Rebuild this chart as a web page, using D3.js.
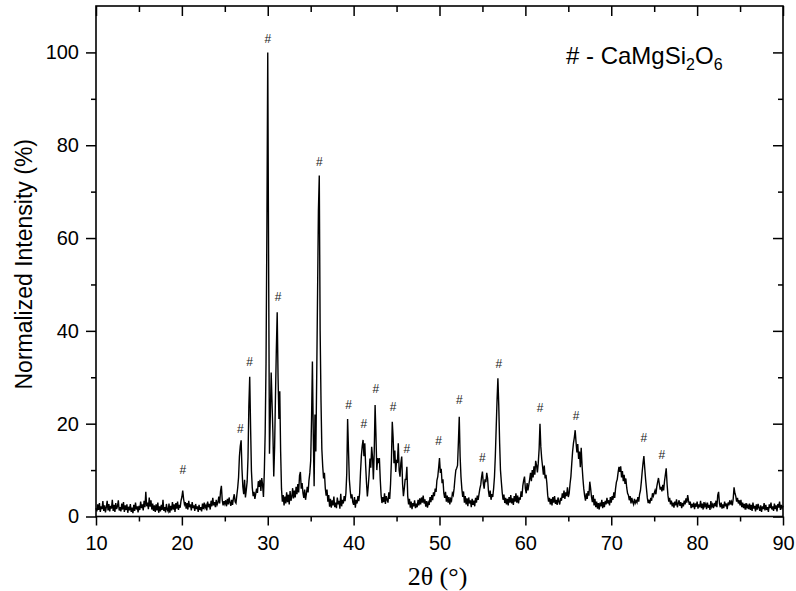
<!DOCTYPE html>
<html>
<head>
<meta charset="utf-8">
<script src="https://cdn.jsdelivr.net/npm/d3@7"></script>
<style>
  body { margin: 0; background: #fff; }
  svg text { font-family: "Liberation Sans", Arial, sans-serif; fill: #000; }
  .axis path { display: none; }
  .axis line { stroke: #000; stroke-width: 1.5; }
  .axis text { font-size: 20px; }
  .hash { font-size: 12px; fill: #222; }
</style>
</head>
<body>
<div id="chart-area"><svg></svg></div>
<script>
const chartSize = { width: 796, height: 591 };
const margin = { left: 96, right: 13, top: 6, bottom: 74.5 };
const width = chartSize.width - margin.left - margin.right;
const height = chartSize.height - margin.top - margin.bottom;

// XRD scan, 2theta 10..90 deg, one reading every 0.1 deg
const scanStart = 10;
const scanStep = 0.1;
const intensity = [
  1.8, 1.1, 2.6, 1.4, 2.9, 1.0, 2.2, 1.6, 3.3, 1.2,   // 10
  2.4, 0.9, 2.0, 3.4, 1.3, 2.7, 1.1, 2.3, 1.7, 3.6,   // 11
  1.2, 2.5, 1.0, 2.9, 1.6, 2.2, 3.5, 1.3, 2.0, 1.1,   // 12
  2.8, 1.5, 3.1, 1.0, 2.4, 1.4, 2.6, 0.8, 2.1, 1.3,   // 13
  2.7, 1.0, 1.9, 0.7, 2.5, 1.2, 3.0, 1.5, 2.2, 0.9,   // 14
  2.3, 1.4, 3.2, 1.8, 2.6, 1.3, 3.4, 2.0, 5.3, 2.2,   // 15
  3.0, 1.6, 4.1, 2.1, 3.5, 1.5, 2.8, 1.2, 2.4, 1.0,   // 16
  2.6, 1.3, 3.0, 0.8, 2.2, 1.1, 2.5, 1.4, 3.6, 1.2,   // 17
  2.0, 0.9, 2.7, 1.5, 1.1, 2.8, 0.8, 2.3, 1.3, 3.1,   // 18
  1.5, 2.6, 1.0, 2.9, 1.7, 3.2, 1.4, 2.5, 1.9, 3.4,   // 19
  4.2, 5.6, 3.8, 2.6, 3.1, 1.7, 2.9, 1.5, 3.4, 2.0,   // 20
  2.6, 1.3, 3.1, 1.8, 2.4, 1.2, 2.7, 1.6, 2.2, 1.0,   // 21
  2.5, 1.4, 2.0, 1.1, 2.8, 1.6, 3.0, 1.9, 2.4, 1.3,   // 22
  3.2, 2.0, 2.7, 1.5, 3.4, 2.2, 4.0, 2.4, 3.1, 2.0,   // 23
  3.6, 2.5, 3.0, 4.3, 2.8, 5.4, 6.6, 3.5, 2.4, 3.3,   // 24
  2.7, 3.5, 2.2, 3.8, 2.6, 4.1, 3.0, 2.3, 3.6, 2.5,   // 25
  3.9, 4.8, 3.2, 2.9, 4.6, 6.2, 8.4, 12.9, 15.2, 16.4, // 26
  10.2, 6.4, 4.8, 7.9, 4.1, 5.7, 7.5, 12.6, 23.8, 30.1, // 27
  19.4, 9.8, 6.2, 4.4, 5.3, 3.8, 4.9, 6.0, 5.1, 7.6,  // 28
  6.4, 7.9, 5.5, 8.3, 6.8, 4.2, 9.6, 18.0, 33.0, 62.0, // 29
  100, 55.0, 13.5, 22.0, 31.0, 24.5, 18.0, 8.6, 15.0, 26.0, // 30
  36.0, 44.0, 30.0, 21.0, 27.0, 14.0, 6.0, 3.2, 4.6, 2.4,  // 31
  4.3, 2.8, 5.2, 3.1, 4.7, 2.6, 5.5, 3.4, 4.2, 6.1,   // 32
  3.9, 5.6, 4.1, 6.4, 4.8, 7.0, 5.2, 8.8, 9.6, 6.0,   // 33
  7.2, 5.1, 4.0, 5.8, 3.6, 4.9, 6.4, 5.2, 7.8, 9.4,   // 34
  12.0, 21.0, 33.4, 18.0, 6.5, 22.0, 14.0, 30.0, 48.0, 66.0, // 35
  73.5, 40.0, 25.0, 14.5, 10.8, 8.2, 9.4, 6.1, 4.5, 5.8, // 36
  3.2, 4.6, 2.1, 3.8, 1.9, 3.5, 2.4, 4.3, 2.0, 3.0,   // 37
  1.8, 4.1, 2.6, 3.4, 1.7, 4.9, 2.2, 3.6, 2.8, 4.4,   // 38
  3.3, 5.0, 9.2, 21.0, 14.5, 8.0, 5.6, 3.9, 4.8, 3.1, // 39
  2.5, 4.2, 1.9, 3.6, 2.8, 4.4, 3.3, 5.0, 9.5, 13.0,  // 40
  15.2, 16.5, 13.0, 15.8, 11.0, 7.2, 4.3, 6.4, 9.0, 12.5, // 41
  10.5, 15.0, 12.8, 8.0, 14.0, 24.0, 17.5, 10.0, 12.6, 11.5, // 42
  12.6, 8.0, 4.6, 2.9, 4.2, 3.1, 5.0, 2.7, 4.4, 3.6,  // 43
  3.0, 5.2, 3.8, 7.0, 12.0, 20.4, 17.0, 11.5, 14.2, 9.6, // 44
  12.0, 11.8, 15.8, 10.0, 8.6, 11.5, 12.9, 7.0, 4.4, 6.0, // 45
  8.0, 8.0, 10.7, 4.4, 2.6, 3.8, 1.9, 3.2, 1.6, 2.9,  // 46
  2.2, 3.5, 1.8, 2.8, 2.0, 3.6, 2.4, 3.9, 2.6, 4.1,   // 47
  3.0, 4.5, 2.8, 3.7, 2.1, 3.3, 1.9, 3.0, 2.5, 4.2,   // 48
  3.1, 4.6, 3.5, 5.2, 4.4, 6.0, 5.3, 7.8, 8.6, 10.5,  // 49
  12.6, 9.4, 10.3, 7.2, 8.0, 5.1, 4.0, 5.3, 3.2, 4.5, // 50
  3.0, 4.2, 2.6, 3.8, 3.4, 5.0, 4.6, 6.0, 8.2, 10.0,  // 51
  10.4, 11.0, 16.0, 21.5, 13.0, 8.6, 6.0, 4.2, 5.4, 3.0, // 52
  4.4, 2.6, 3.9, 2.2, 4.1, 2.8, 3.5, 2.0, 3.8, 2.5,   // 53
  3.4, 2.2, 4.0, 3.0, 4.5, 3.6, 4.8, 6.0, 6.8, 8.5,   // 54
  9.7, 7.2, 6.0, 8.0, 7.4, 9.4, 8.2, 5.5, 4.2, 5.6,   // 55
  3.6, 4.8, 4.2, 6.0, 8.5, 13.0, 19.0, 25.0, 29.8, 24.0, // 56
  16.0, 10.0, 7.5, 5.2, 3.6, 4.7, 2.9, 4.0, 2.6, 3.8, // 57
  2.4, 4.2, 3.0, 4.6, 2.8, 3.9, 2.5, 4.4, 3.2, 5.0,   // 58
  3.0, 4.5, 2.8, 4.1, 3.6, 5.4, 4.2, 6.6, 7.8, 8.6,   // 59
  6.0, 5.0, 7.2, 5.6, 6.8, 8.0, 9.4, 7.6, 10.0, 8.4,  // 60
  10.8, 9.0, 12.0, 11.0, 9.5, 11.5, 14.5, 20.0, 15.0, 12.5, // 61
  10.8, 9.0, 11.0, 8.2, 9.0, 7.2, 4.6, 3.2, 4.0, 2.6, // 62
  3.8, 2.4, 4.2, 3.0, 4.4, 2.7, 3.6, 2.5, 4.1, 3.2,   // 63
  2.6, 4.0, 3.4, 5.0, 4.0, 5.6, 3.8, 5.2, 4.4, 6.3,   // 64
  4.2, 5.0, 7.0, 8.6, 11.4, 14.0, 15.8, 17.0, 18.6, 16.0, // 65
  13.8, 15.6, 12.4, 14.0, 10.6, 14.8, 11.0, 8.2, 6.0, 4.5, // 66
  3.4, 5.0, 3.8, 5.5, 4.5, 7.5, 6.0, 4.2, 3.1, 4.6,   // 67
  2.4, 3.8, 2.0, 3.2, 1.7, 2.9, 1.5, 3.0, 2.2, 3.6,   // 68
  1.8, 3.1, 2.0, 3.4, 2.6, 4.0, 2.8, 3.5, 2.4, 4.2,   // 69
  3.0, 4.4, 3.6, 5.2, 4.0, 6.0, 7.4, 8.0, 9.5, 10.7,  // 70
  9.6, 10.8, 8.4, 9.8, 7.6, 9.0, 7.0, 8.2, 6.2, 5.0,  // 71
  4.6, 3.5, 4.4, 2.8, 4.0, 3.1, 2.6, 3.8, 2.9, 3.4,   // 72
  3.0, 4.2, 3.2, 4.8, 5.6, 7.4, 9.6, 11.5, 13.0, 10.4, // 73
  8.0, 6.0, 4.0, 2.9, 3.6, 2.8, 4.0, 3.4, 5.0, 4.4,   // 74
  5.0, 5.6, 4.8, 6.4, 7.4, 8.3, 7.0, 5.8, 6.4, 5.4,   // 75
  6.8, 5.6, 7.6, 9.0, 10.4, 7.0, 4.6, 3.2, 4.0, 2.6,  // 76
  3.4, 2.2, 3.0, 1.9, 3.2, 2.4, 3.7, 2.0, 2.8, 3.5,   // 77
  2.3, 3.1, 1.8, 2.9, 2.2, 3.4, 2.6, 3.9, 3.0, 4.6,   // 78
  3.4, 2.5, 3.2, 1.8, 2.7, 2.0, 3.0, 1.6, 2.8, 2.1,   // 79
  3.2, 1.7, 2.6, 2.0, 3.4, 1.8, 2.8, 1.5, 3.1, 2.2,   // 80
  2.7, 1.6, 3.0, 1.9, 2.5, 1.4, 3.3, 2.1, 2.6, 1.8,   // 81
  2.9, 2.2, 3.4, 2.0, 4.6, 5.3, 2.8, 2.0, 3.0, 1.7,   // 82
  2.6, 1.8, 3.2, 2.2, 2.8, 1.6, 3.0, 2.4, 3.5, 2.6,   // 83
  3.2, 2.4, 3.8, 6.3, 5.0, 4.4, 3.2, 4.0, 2.8, 3.5,   // 84
  2.4, 3.6, 2.0, 3.0, 1.8, 2.7, 1.5, 2.9, 1.9, 2.4,   // 85
  1.6, 2.8, 1.4, 2.5, 1.2, 3.0, 1.7, 2.3, 1.1, 2.6,   // 86
  1.5, 2.7, 1.9, 1.2, 2.4, 1.0, 2.2, 1.6, 2.9, 1.3,   // 87
  2.5, 1.4, 2.0, 1.0, 2.6, 1.8, 3.0, 1.5, 2.2, 1.2,   // 88
  2.8, 1.6, 2.4, 1.1, 2.7, 1.9, 3.2, 1.4, 2.5, 1.8,   // 89
  2.3                                                 // 90
];

// CaMgSi2O6 reflections marked with "#": position and label height
const hashTheta = [20.1, 26.8, 27.9, 30.0, 31.2, 36.0, 39.4, 41.2, 42.6, 44.6, 46.2, 49.9, 52.3, 55.0, 56.9, 61.7, 65.9, 73.8, 75.9];
const hashLevel = [10.0, 19.0, 33.3, 103.0, 47.3, 76.4, 24.0, 20.0, 27.5, 23.6, 14.5, 16.3, 25.1, 12.6, 33.0, 23.4, 21.6, 16.9, 13.3];

const xTicks = [10, 20, 30, 40, 50, 60, 70, 80, 90];
const xMinor = [15, 25, 35, 45, 55, 65, 75, 85];
const yTicks = [0, 20, 40, 60, 80, 100];
const yMinor = [10, 30, 50, 70, 90];

const drawChart = () => {
    const svg = d3.select('#chart-area svg')
        .attr('width', chartSize.width)
        .attr('height', chartSize.height);

    const g = svg.append('g')
        .attr('transform', `translate(${margin.left},${margin.top})`);

    const x = d3.scaleLinear().domain([10, 90]).range([0, width]);
    const y = d3.scaleLinear().domain([0, 110]).range([height, 0]);

    const scan = intensity.map((v, i) => ({ t: scanStart + i * scanStep, v: v }));

    g.append('path')
        .datum(scan)
        .attr('fill', 'none')
        .attr('stroke', '#000')
        .attr('stroke-width', 1.4)
        .attr('stroke-linejoin', 'miter')
        .attr('d', d3.line().x(d => x(d.t)).y(d => y(d.v)));

    g.selectAll('.hash')
        .data(hashTheta)
        .enter()
        .append('text')
        .attr('class', 'hash')
        .attr('x', d => x(d))
        .attr('y', (d, i) => y(hashLevel[i]))
        .attr('dy', '0.35em')
        .attr('text-anchor', 'middle')
        .text('#');

    // major + minor ticks on all four sides
    const addAxis = (axis, cls, transform) => {
        g.append('g')
            .attr('class', 'axis ' + cls)
            .attr('transform', transform)
            .call(axis);
    };

    addAxis(d3.axisBottom(x).tickValues(xTicks).tickSize(9).tickPadding(10).tickFormat(d3.format('d')),
        'x-axis', `translate(0,${height})`);
    addAxis(d3.axisBottom(x).tickValues(xMinor).tickSize(5).tickFormat(''), 'x-minor', `translate(0,${height})`);
    addAxis(d3.axisTop(x).tickValues(xTicks).tickSize(-10).tickFormat(''), 'x-top', 'translate(0,0)');
    addAxis(d3.axisTop(x).tickValues(xMinor).tickSize(-6).tickFormat(''), 'x-top-minor', 'translate(0,0)');

    addAxis(d3.axisLeft(y).tickValues(yTicks).tickSize(10).tickPadding(7).tickFormat(d3.format('d')),
        'y-axis', 'translate(0,0)');
    addAxis(d3.axisLeft(y).tickValues(yMinor).tickSize(5).tickFormat(''), 'y-minor', 'translate(0,0)');
    addAxis(d3.axisRight(y).tickValues(yTicks).tickSize(-10).tickFormat(''), 'y-right', `translate(${width},0)`);
    addAxis(d3.axisRight(y).tickValues(yMinor).tickSize(-5).tickFormat(''), 'y-right-minor', `translate(${width},0)`);

    g.append('rect')
        .attr('width', width)
        .attr('height', height)
        .attr('fill', 'none')
        .attr('stroke', '#000')
        .attr('stroke-width', 1.6);

    // axis titles
    g.append('text')
        .attr('transform', `translate(${32 - margin.left},${height / 2 + 3}) rotate(-90)`)
        .attr('text-anchor', 'middle')
        .style('font-size', '23px')
        .text('Normalized Intensity (%)');

    g.append('text')
        .attr('x', width / 2 - 2)
        .attr('y', height + 68)
        .attr('text-anchor', 'middle')
        .style('font-family', '"Liberation Serif", "Times New Roman", serif')
        .style('font-size', '26px')
        .text('2θ (°)');

    // phase legend
    const legend = g.append('text')
        .attr('x', 470)
        .attr('y', 58)
        .style('font-size', '24px');
    legend.append('tspan').text('# - CaMgSi');
    legend.append('tspan').attr('dy', 6).style('font-size', '16px').text('2');
    legend.append('tspan').attr('dy', -6).text('O');
    legend.append('tspan').attr('dy', 6).style('font-size', '16px').text('6');
};

window.onload = drawChart;
</script>
</body>
</html>
